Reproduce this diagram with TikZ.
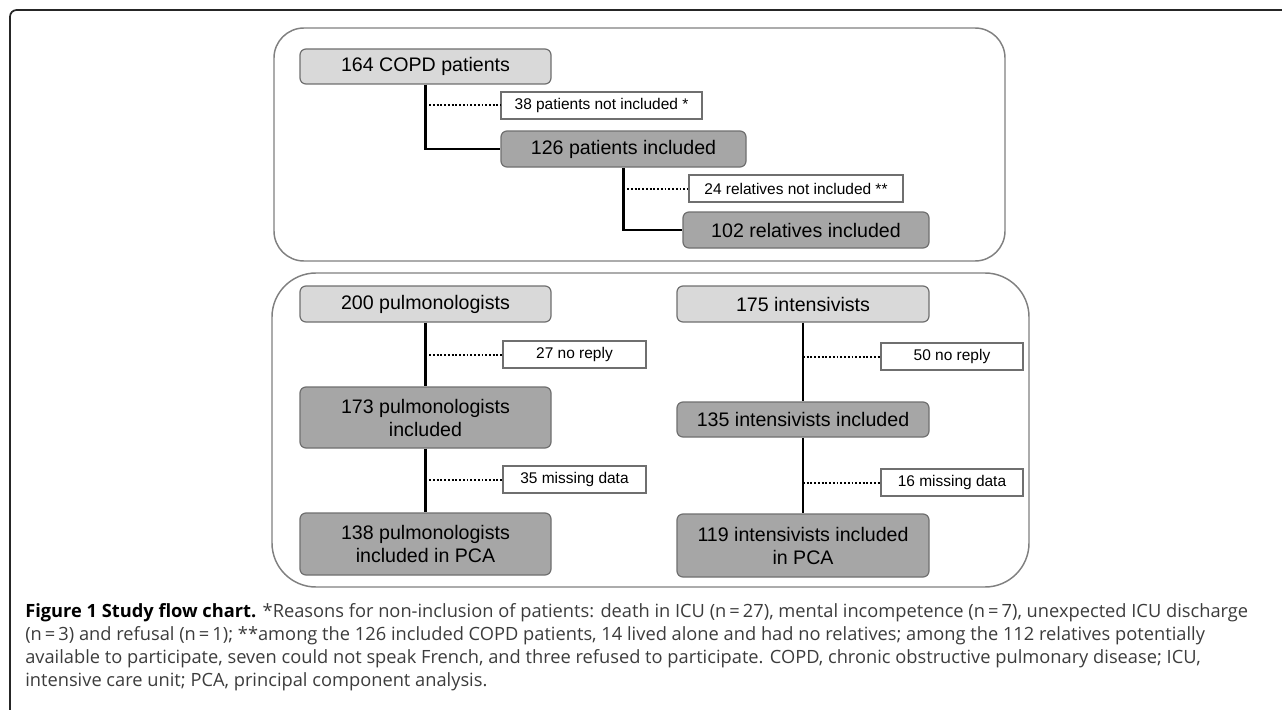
\documentclass[tikz,border=0pt]{standalone}
\usepackage{fontspec}
\setmainfont{Liberation Sans}
\newfontfamily\capfont{Open Sans}
\usetikzlibrary{calc}

\definecolor{boxlight}{HTML}{D9D9D9}
\definecolor{boxdark}{HTML}{A6A6A6}
\definecolor{edgegray}{HTML}{6F6F6F}
\definecolor{panelgray}{HTML}{808080}
\definecolor{captext}{HTML}{3C3C3C}

\tikzset{
  box/.style={draw=edgegray, line width=0.9pt, rounded corners=4.5pt, inner sep=0pt,
    align=center, font=\fontsize{14.7}{17.25}\selectfont},
  light/.style={box, fill=boxlight},
  dark/.style={box, fill=boxdark},
  note/.style={draw=edgegray, line width=0.9pt, fill=white, inner sep=0pt,
    font=\fontsize{11.6}{14}\selectfont},
  size/.style 2 args={minimum width=#1*0.75pt, minimum height=#2*0.75pt},
  link/.style={line width=1.6pt, black},
  skip/.style={line width=1.5pt, black, dash pattern=on 1.4pt off 1.4pt},
  panel/.style={draw=panelgray, line width=1.1pt},
  captxt/.style={inner sep=0pt, anchor=base west, text=captext,
    font=\capfont\fontsize{13.7}{15}\selectfont}
}

\begin{document}
\begin{tikzpicture}[x=0.75pt, y=-0.75pt]
\useasboundingbox (0,0) rectangle (1282,710);

% frame and panels
\draw[line width=1.3pt, black!85, rounded corners=5pt] (10,712) -- (10,10) -- (1284,10);
\draw[panel, rounded corners=22.5pt] (274,28) rectangle (1005,261);
\draw[panel, rounded corners=33pt] (272,273) rectangle (1029,587);

% patients and relatives
\node[light, size={251}{35}] (copd) at (425.5,66.5) {164 COPD patients};
\node[note, size={201}{27}] (excl1) at (601.5,105.5) {38 patients not included *};
\node[dark, size={245}{36}] (pinc) at (623.5,149) {126 patients included};
\node[note, size={214}{27}] (excl2) at (796,188.5) {24 relatives not included **};
\node[dark, size={246}{36}] (rinc) at (806,230) {102 relatives included};

\draw[link] (copd.south) |- (pinc.west);
\draw[skip] (copd.south |- excl1.west) -- (excl1.west);
\draw[link] (pinc.south) |- (rinc.west);
\draw[skip] (pinc.south |- excl2.west) -- (excl2.west);

% physicians
\node[light, size={251}{36}] (pulm) at (425.5,304) {200 pulmonologists};
\node[note, size={143}{27}] (pno) at (574.5,354.5) {27 no reply};
\node[dark, size={251}{61}] (pinc2) at (425.5,417.5) {173 pulmonologists\\included};
\node[note, size={143}{27}] (pmiss) at (574.5,479.5) {35 missing data};
\node[dark, size={251}{62}] (ppca) at (425.5,544) {138 pulmonologists\\included in PCA};

\node[light, size={252}{36}] (icu) at (803,304) {175 intensivists};
\node[note, size={142}{27}] (ino) at (952,356.5) {50 no reply};
\node[dark, size={252}{35}] (iinc) at (803,419.5) {135 intensivists included};
\node[note, size={142}{27}] (imiss) at (952,482.5) {16 missing data};
\node[dark, size={252}{63}] (ipca) at (803,545.5) {119 intensivists included\\in PCA};

\foreach \a/\b/\c in {pulm/pinc2/pno, pinc2/ppca/pmiss, icu/iinc/ino, iinc/ipca/imiss} {
  \draw[link] (\a.south) -- (\b.north);
  \draw[skip] (\a.south |- \c.west) -- (\c.west);
}

% caption
\node[captxt] (cap1) at (25,617) {\textbf{\color{black}Figure 1 Study flow chart.} *Reasons for non-inclusion of patients: death in ICU (n\,=\,27), mental incompetence (n\,=\,7), unexpected ICU discharge};
\node[captxt] (cap2) at (25,640) {(n\,=\,3) and refusal (n\,=\,1); **among the 126 included COPD patients, 14 lived alone and had no relatives; among the 112 relatives potentially};
\node[captxt] (cap3) at (25,663) {available to participate, seven could not speak French, and three refused to participate. COPD, chronic obstructive pulmonary disease; ICU,};
\node[captxt] (cap4) at (25,686) {intensive care unit; PCA, principal component analysis.};

\end{tikzpicture}
\end{document}
